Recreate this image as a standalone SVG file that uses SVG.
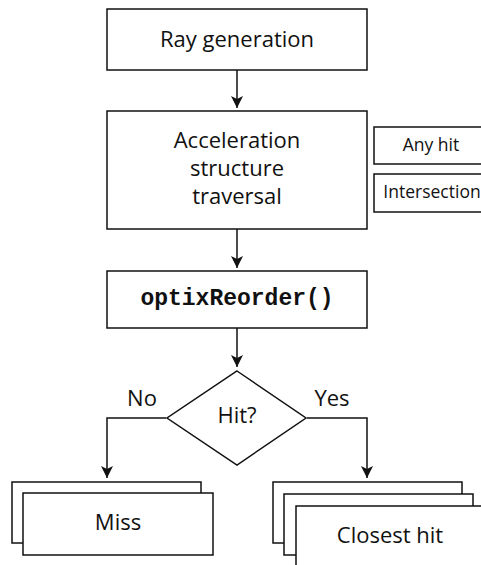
<svg xmlns="http://www.w3.org/2000/svg" width="481" height="565" viewBox="0 0 481 565">
<style>
.box{fill:#fff;stroke:#111;stroke-width:1.5}
.t{font-family:"Open Sans","Noto Sans",sans-serif;font-size:22px;fill:#111;text-anchor:middle}
.s{font-family:"Open Sans","Noto Sans",sans-serif;font-size:17.5px;fill:#111;text-anchor:middle}
.m{font-family:"Liberation Mono","Courier New",monospace;font-size:23px;font-weight:bold;fill:#111;text-anchor:middle}
.c{fill:none;stroke:#111;stroke-width:1.5}
</style>
<defs>
<marker id="ah" viewBox="0 0 12 12" refX="12" refY="6" markerWidth="12" markerHeight="12" markerUnits="userSpaceOnUse" orient="auto">
<path d="M0,0 L12,6 L0,12 L3,6 z" fill="#111"/>
</marker>
</defs>
<rect width="481" height="565" fill="#fff"/>
<g id="connectors">
<path class="c" d="M237,70 V108" marker-end="url(#ah)"/>
<path class="c" d="M237,229 V268" marker-end="url(#ah)"/>
<path class="c" d="M237,328 V367" marker-end="url(#ah)"/>
<path class="c" d="M166,418 H107 V478" marker-end="url(#ah)"/>
<path class="c" d="M307,418 H367 V478" marker-end="url(#ah)"/>
<text class="t" x="142" y="406">No</text>
<text class="t" x="332" y="406">Yes</text>
</g>
<g id="raygen">
<rect class="box" x="107" y="9" width="260" height="61"/>
<text class="t" x="237" y="47">Ray generation</text>
</g>
<g id="traversal">
<rect class="box" x="107" y="111" width="260" height="118"/>
<text class="t" x="237" y="148">Acceleration</text>
<text class="t" x="237" y="176">structure</text>
<text class="t" x="237" y="204">traversal</text>
</g>
<g id="anyhit">
<rect class="box" x="374" y="127" width="115" height="37"/>
<text class="s" x="431" y="151">Any hit</text>
</g>
<g id="intersection">
<rect class="box" x="374" y="174" width="115" height="38"/>
<text class="s" x="432" y="198">Intersection</text>
</g>
<g id="reorder">
<rect class="box" x="107" y="271" width="260" height="57"/>
<text class="m" x="237" y="305">optixReorder()</text>
</g>
<g id="hit">
<polygon class="box" points="237,371 306,418 237,465 167,418"/>
<text class="t" x="237" y="423">Hit?</text>
</g>
<g id="miss">
<rect class="box" x="12" y="482" width="189" height="61"/>
<rect class="box" x="23" y="493" width="190" height="62"/>
<text class="t" x="118" y="530">Miss</text>
</g>
<g id="closesthit">
<rect class="box" x="273" y="482" width="189" height="61"/>
<rect class="box" x="284" y="494" width="189" height="61"/>
<rect class="box" x="296" y="506" width="190" height="62"/>
<text class="t" x="390" y="543">Closest hit</text>
</g>
</svg>
